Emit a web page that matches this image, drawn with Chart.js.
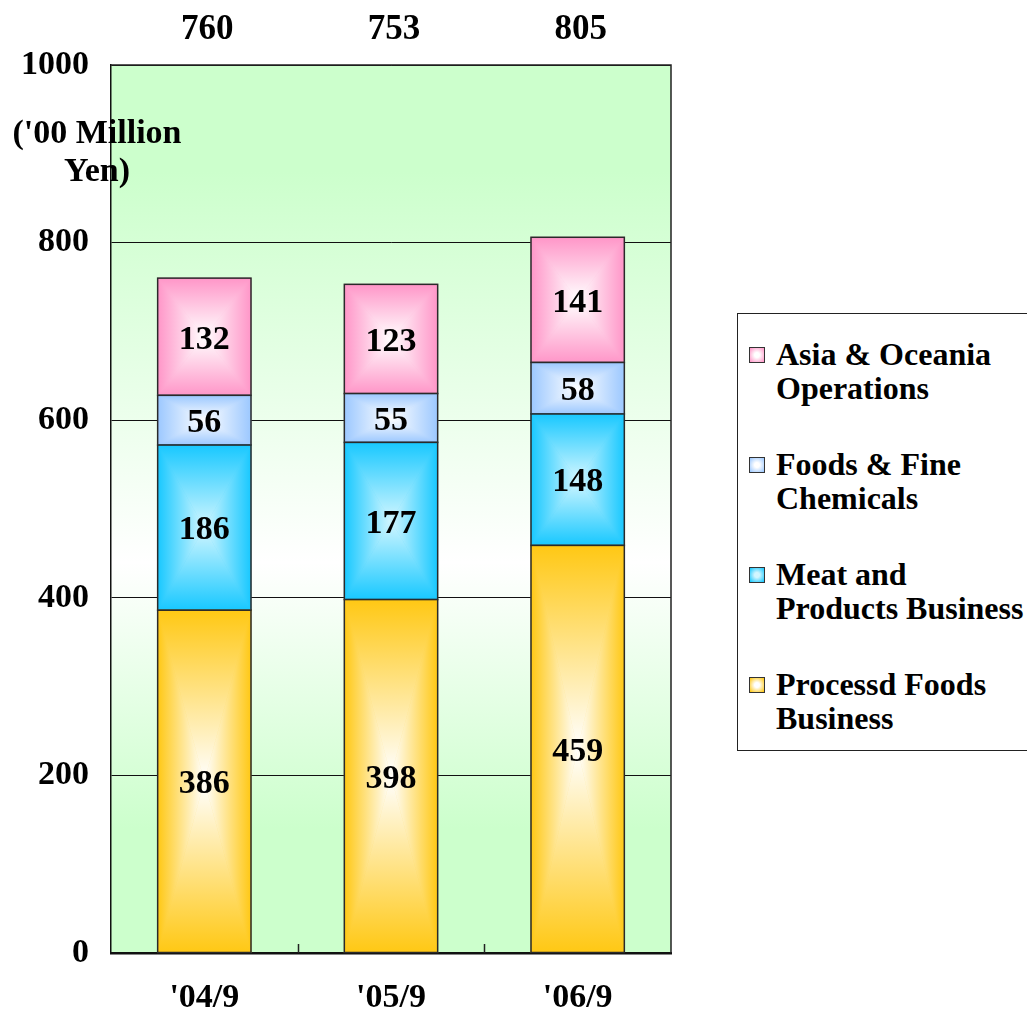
<!DOCTYPE html>
<html>
<head>
<meta charset="utf-8">
<title>Sales by segment</title>
<script src="https://cdn.jsdelivr.net/npm/chart.js@4.4.0/dist/chart.umd.min.js"></script>
<style>
  body { margin: 0; background: #fff; overflow: hidden; }
  #wrap { position: relative; width: 1027px; height: 1013px; }
  #legend {
    position: absolute; left: 737px; top: 313px; width: 320px; height: 438px;
    border: 1px solid #222; background: #fff; box-sizing: border-box;
    font-family: "Liberation Serif", "Times New Roman", serif; font-weight: bold;
    font-size: 32px; line-height: 34px; color: #000;
  }
  .item { position: absolute; left: 38px; }
  .item .box {
    position: absolute; left: -27px; top: 10px; width: 14px; height: 14px;
    border: 1.5px solid #333;
  }
</style>
</head>
<body>
<div id="wrap">
  <canvas id="salesChart" width="1027" height="1013"></canvas>
  <div id="legend"></div>
</div>
<script>
const periods = ["'04/9", "'05/9", "'06/9"];
const segmentNames = ['Processd Foods Business', 'Meat and Products Business', 'Foods & Fine Chemicals', 'Asia & Oceania Operations'];
const legendLines = [
  ['Processd Foods', 'Business'],
  ['Meat and', 'Products Business'],
  ['Foods & Fine', 'Chemicals'],
  ['Asia & Oceania', 'Operations']
];
const processedFoods = [386, 398, 459];
const meatProducts = [186, 177, 148];
const fineChemicals = [56, 55, 58];
const asiaOceania = [132, 123, 141];
const totals = [760, 753, 805];
const yTicks = [0, 200, 400, 600, 800, 1000];

// edge colour and centre colour of each segment's fill
const edgeColors = ['#ffc814', '#18c8ff', '#9cc8ff', '#ff96c8'];
const centerColors = ['#ffffff', '#d2f6ff', '#ffffff', '#ffffff'];

const FONT = '"Liberation Serif", "Times New Roman", serif';

// rectangular "from centre" fill: four triangles meeting in the middle
const gradientBars = {
  id: 'gradientBars',
  beforeDraw(chart) {
    const { ctx, chartArea: a } = chart;
    const g = ctx.createLinearGradient(0, a.top, 0, a.bottom);
    g.addColorStop(0, '#ccffcc');
    g.addColorStop(0.12, '#ccffcc');
    g.addColorStop(0.56, '#ffffff');
    g.addColorStop(0.86, '#ccffcc');
    g.addColorStop(1, '#ccffcc');
    ctx.save();
    ctx.fillStyle = g;
    ctx.fillRect(a.left, a.top, a.right - a.left, a.bottom - a.top);
    ctx.restore();
  },
  afterDatasetDraw(chart, args) {
    const ctx = chart.ctx;
    const k = args.index;
    args.meta.data.forEach(bar => {
      const p = bar.getProps(['x', 'y', 'base', 'width'], true);
      const l = p.x - p.width / 2, r = p.x + p.width / 2;
      const t = Math.min(p.y, p.base), b = Math.max(p.y, p.base);
      const cx = p.x, cy = (t + b) / 2;
      const tris = [
        [[l, t], [r, t], [cx, t, cx, cy]],
        [[r, b], [l, b], [cx, b, cx, cy]],
        [[l, b], [l, t], [l, cy, cx, cy]],
        [[r, t], [r, b], [r, cy, cx, cy]]
      ];
      ctx.save();
      tris.forEach(([p1, p2, gl]) => {
        const g = ctx.createLinearGradient(gl[0], gl[1], gl[2], gl[3]);
        g.addColorStop(0, edgeColors[k]);
        g.addColorStop(1, centerColors[k]);
        ctx.beginPath();
        ctx.moveTo(p1[0], p1[1]);
        ctx.lineTo(p2[0], p2[1]);
        ctx.lineTo(cx, cy);
        ctx.closePath();
        ctx.fillStyle = g;
        ctx.fill();
        ctx.strokeStyle = g;
        ctx.lineWidth = 0.6;
        ctx.stroke();
      });
      ctx.strokeStyle = '#2a2a2a';
      ctx.lineWidth = 1.5;
      ctx.strokeRect(l, t, r - l, b - t);
      ctx.restore();
    });
  },
  afterDatasetsDraw(chart) {
    const { ctx, chartArea: a, scales } = chart;
    ctx.save();
    // plot frame and the inner category ticks
    ctx.strokeStyle = '#222';
    ctx.lineWidth = 1.5;
    ctx.beginPath();
    ctx.moveTo(a.left, a.top);
    ctx.lineTo(a.right, a.top);
    ctx.lineTo(a.right, a.bottom);
    ctx.stroke();
    for (let i = 0; i < periods.length - 1; i++) {
      const tx = Math.round((scales.x.getPixelForValue(i) + scales.x.getPixelForValue(i + 1)) / 2) + 0.5;
      ctx.beginPath();
      ctx.moveTo(tx, a.bottom);
      ctx.lineTo(tx, a.bottom - 9);
      ctx.stroke();
    }

    // segment values
    ctx.fillStyle = '#000';
    ctx.font = 'bold 34px ' + FONT;
    ctx.textAlign = 'center';
    ctx.textBaseline = 'middle';
    chart.data.datasets.forEach((ds, k) => {
      chart.getDatasetMeta(k).data.forEach((bar, i) => {
        const p = bar.getProps(['x', 'y', 'base'], true);
        ctx.fillText(String(ds.data[i]), p.x, (p.y + p.base) / 2 + 3);
      });
    });

    // totals above the plot
    ctx.font = 'bold 35px ' + FONT;
    totals.forEach((v, i) => {
      ctx.fillText(String(v), scales.x.getPixelForValue(i) + 3, 30);
    });

    // unit caption
    ctx.font = 'bold 34px ' + FONT;
    ctx.fillText("('00 Million", 97, 134);
    ctx.fillText('Yen)', 97, 172);
    ctx.restore();
  }
};

function segment(k, values) {
  return {
    label: segmentNames[k],
    data: values,
    backgroundColor: edgeColors[k],
    borderColor: '#2a2a2a',
    borderWidth: 0,
    barPercentage: 1,
    categoryPercentage: 0.5
  };
}

new Chart(document.getElementById('salesChart').getContext('2d'), {
  type: 'bar',
  data: {
    labels: periods,
    datasets: [
      segment(0, processedFoods),
      segment(1, meatProducts),
      segment(2, fineChemicals),
      segment(3, asiaOceania)
    ]
  },
  options: {
    responsive: false,
    animation: false,
    events: [],
    layout: { padding: { top: 65, right: 356, bottom: 0, left: 0 } },
    plugins: {
      legend: { display: false },
      tooltip: { enabled: false }
    },
    scales: {
      x: {
        stacked: true,
        offset: true,
        grid: { display: false },
        border: { color: '#111', width: 2.5 },
        ticks: { color: '#000', font: { family: FONT, size: 34, weight: 'bold' }, padding: 17 },
        afterFit(scale) { scale.height = 60; }
      },
      y: {
        stacked: true,
        min: 0,
        max: 1000,
        afterBuildTicks(scale) { scale.ticks = yTicks.map(v => ({ value: v })); },
        grid: { color: '#111', lineWidth: 1, drawTicks: false },
        border: { color: '#111', width: 1.5 },
        ticks: {
          color: '#000',
          font: { family: FONT, size: 34, weight: 'bold' },
          padding: 22,
          callback: v => String(v)
        },
        afterFit(scale) { scale.width = 111; }
      }
    }
  },
  plugins: [gradientBars]
});

// legend, listed top segment first
const legend = document.getElementById('legend');
[3, 2, 1, 0].forEach((k, row) => {
  const item = document.createElement('div');
  item.className = 'item';
  item.style.top = (23 + row * 110) + 'px';
  const box = document.createElement('span');
  box.className = 'box';
  box.style.background = 'radial-gradient(circle, ' + centerColors[k] + ' 25%, ' + edgeColors[k] + ' 95%)';
  item.appendChild(box);
  item.appendChild(document.createTextNode(legendLines[k][0]));
  item.appendChild(document.createElement('br'));
  item.appendChild(document.createTextNode(legendLines[k][1]));
  legend.appendChild(item);
});
</script>
</body>
</html>
